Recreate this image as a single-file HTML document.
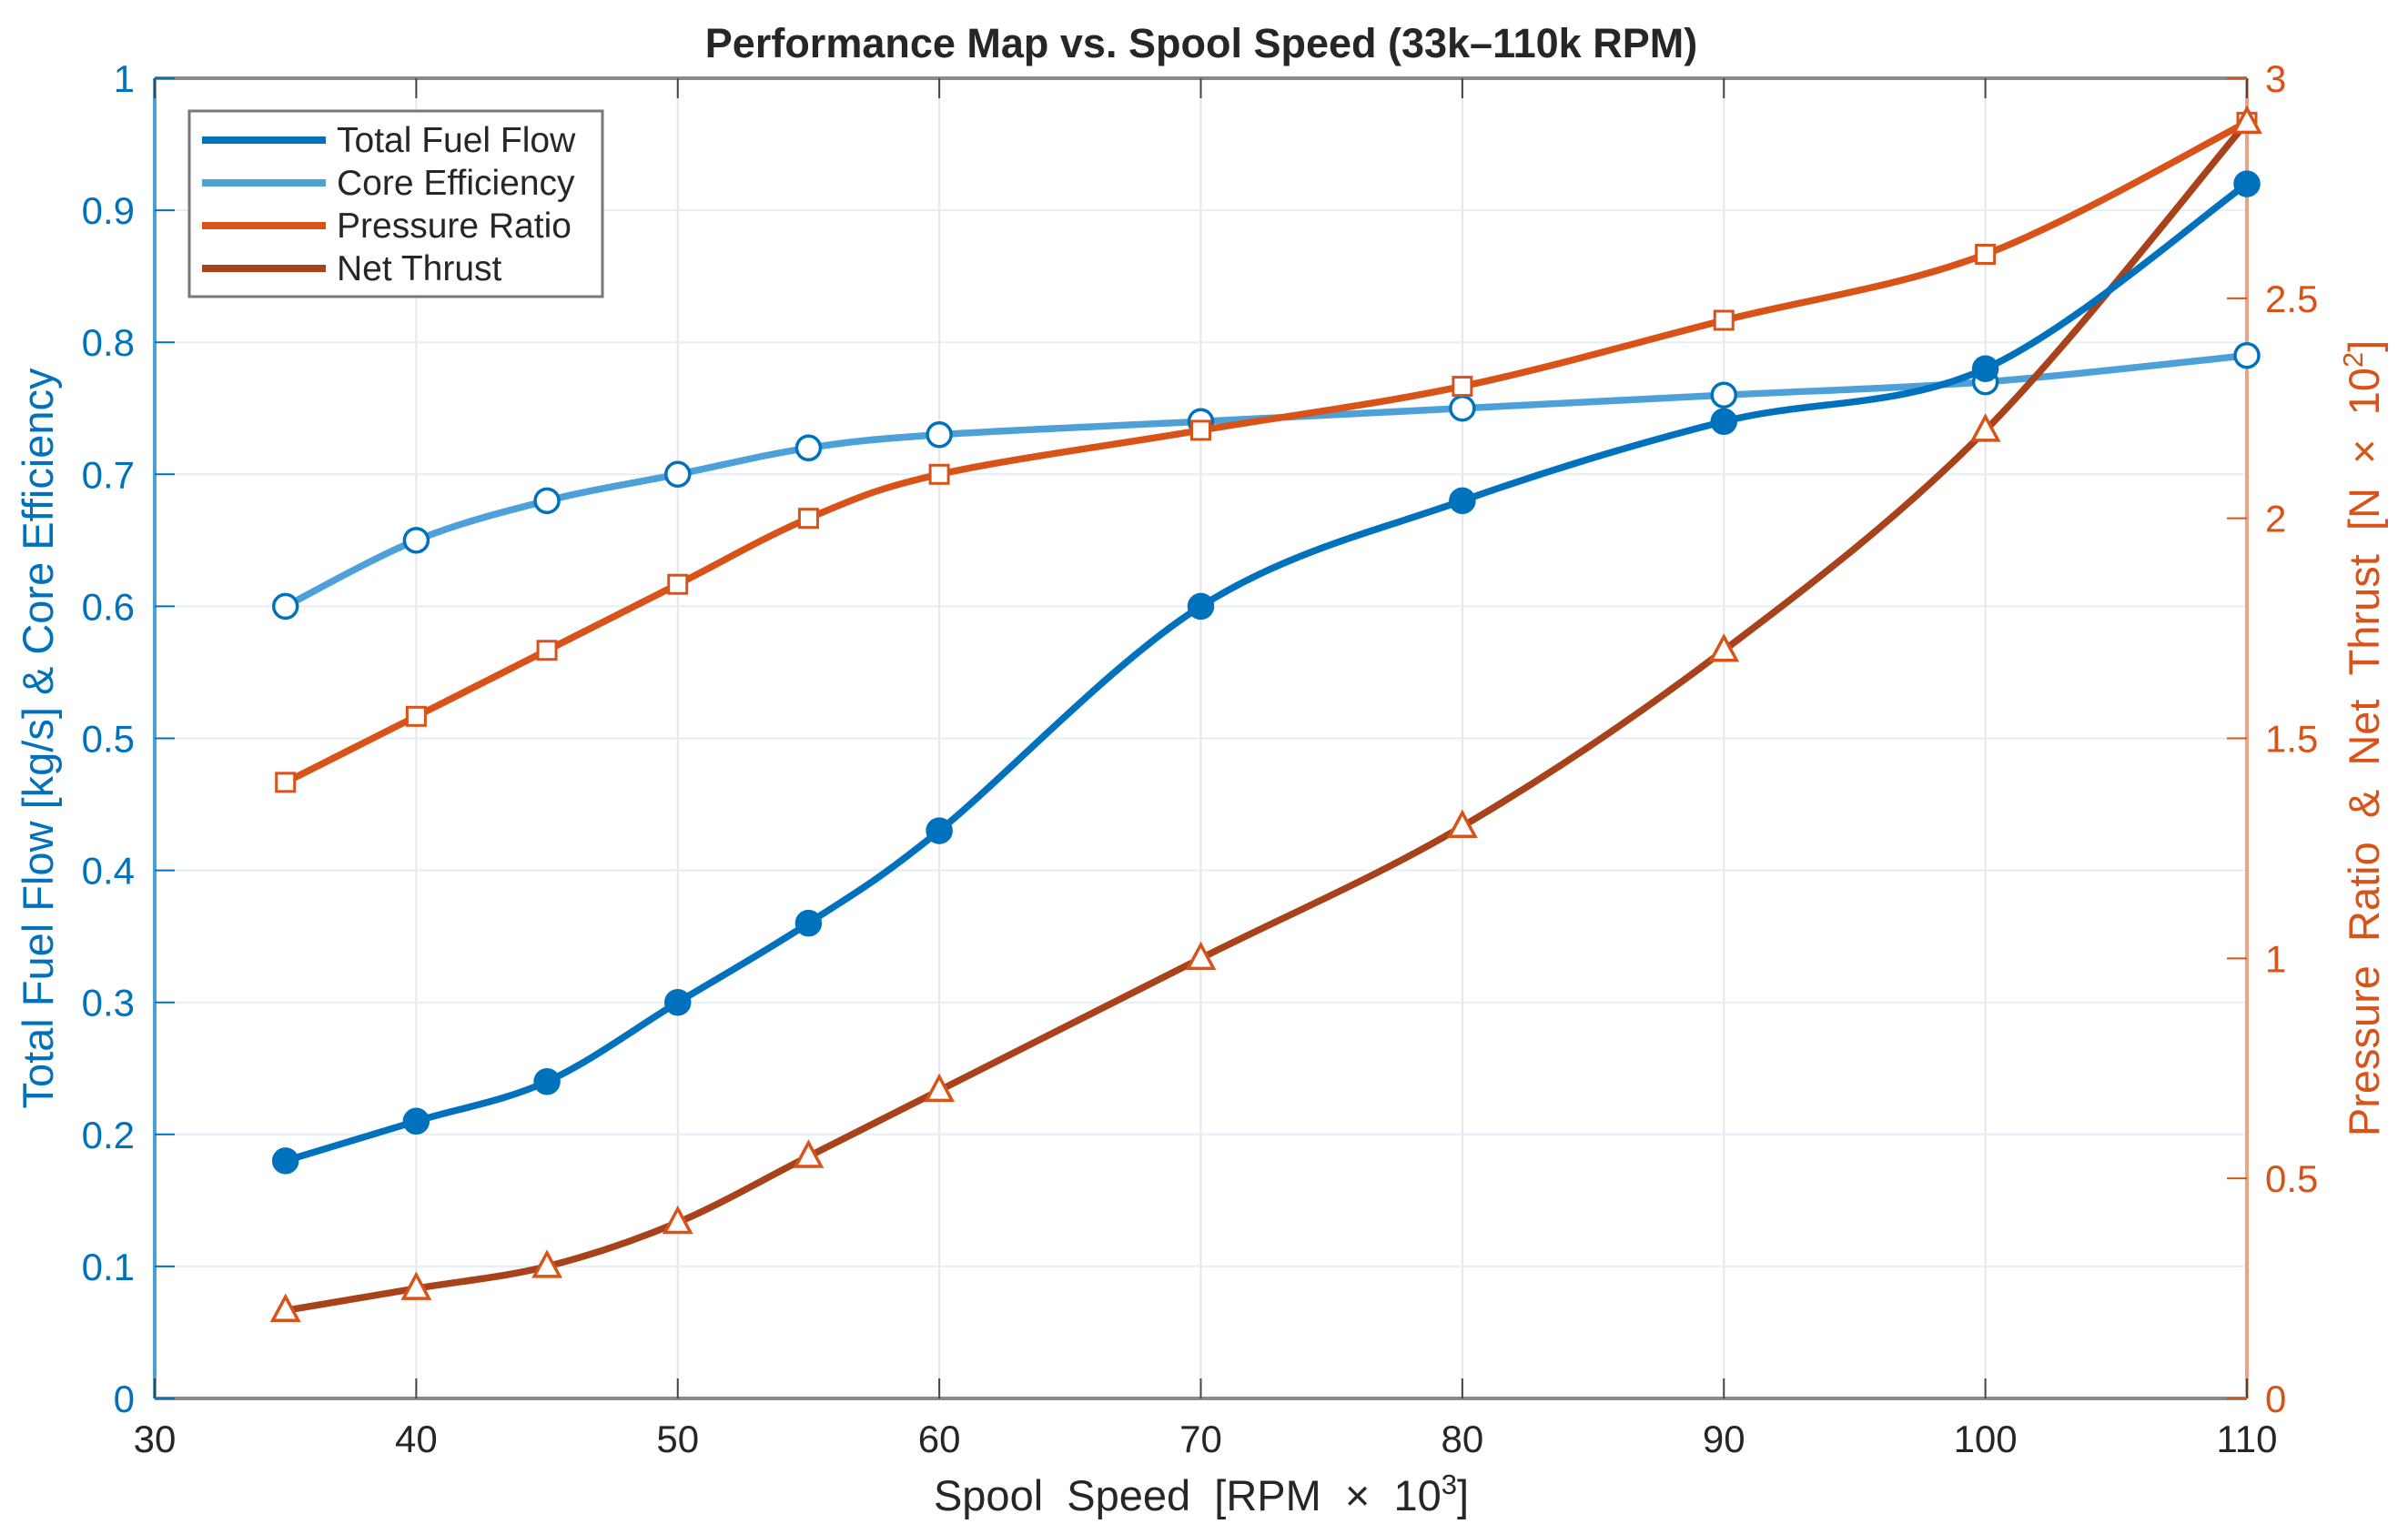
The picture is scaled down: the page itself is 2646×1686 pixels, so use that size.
<!DOCTYPE html>
<html><head><meta charset="utf-8"><style>
html,body{margin:0;padding:0;background:#fff;}
svg{display:block;font-family:"Liberation Sans",Arial,sans-serif;}
</style></head><body>
<svg id="chart" width="2646" height="1686" viewBox="0 0 2646 1686"></svg>
<script>
const categories=[35,40,45,50,55,60,70,80,90,100,110];
const fuelFlow=[0.18,0.21,0.24,0.30,0.36,0.43,0.60,0.68,0.74,0.78,0.92];
const coreEff=[0.60,0.65,0.68,0.70,0.72,0.73,0.74,0.75,0.76,0.77,0.79];
const pressureRatio=[1.40,1.55,1.70,1.85,2.00,2.10,2.20,2.30,2.45,2.60,2.90];
const netThrust=[0.20,0.25,0.30,0.40,0.55,0.70,1.00,1.30,1.70,2.20,2.90];
const xTicks=[30,40,50,60,70,80,90,100,110];
const yLeftTicks=[0,0.1,0.2,0.3,0.4,0.5,0.6,0.7,0.8,0.9,1];
const yRightTicks=[0,0.5,1,1.5,2,2.5,3];

const L=170,R=2469,T=86,B=1537;
const NS="http://www.w3.org/2000/svg";
const svg=document.getElementById('chart');
const sx=v=>L+(v-30)/(110-30)*(R-L);
const syl=v=>B-v*(B-T);
const syr=v=>B-v/3*(B-T);
function mk(tag,attrs,parent){const e=document.createElementNS(NS,tag);for(const k in attrs)e.setAttribute(k,attrs[k]);(parent||svg).appendChild(e);return e;}
function fmt(v){return String(+v.toFixed(2));}

xTicks.forEach(t=>{const g=mk('line',{x1:sx(t),x2:sx(t),y1:T,y2:B,stroke:'#e3e6ea','stroke-width':2});

});
yLeftTicks.forEach(t=>{const g=mk('line',{x1:L,x2:R,y1:syl(t),y2:syl(t),stroke:'#e3eef8','stroke-width':2});

});

const ax=mk('path',{d:`M${L} ${T}H${R}M${L} ${B}H${R}`,stroke:'#8a8a8a','stroke-width':4,fill:'none'});


const la=mk('line',{x1:L,x2:L,y1:T,y2:B,stroke:'#4d9fd6','stroke-width':4});


const ra=mk('line',{x1:R,x2:R,y1:T,y2:B,stroke:'#eca383','stroke-width':4});



xTicks.forEach(t=>{
 mk('line',{x1:sx(t),x2:sx(t),y1:B,y2:B-22,stroke:'#444','stroke-width':2});
 mk('line',{x1:sx(t),x2:sx(t),y1:T,y2:T+22,stroke:'#444','stroke-width':2});
 const tx=mk('text',{x:sx(t),y:B+59,'text-anchor':'middle','font-size':42,fill:'#262626'});tx.textContent=t;
 
 
});
yLeftTicks.forEach(t=>{
 mk('line',{x1:L,x2:L+22,y1:syl(t),y2:syl(t),stroke:'#0072BD','stroke-width':2});
 const tx=mk('text',{x:L-22,y:syl(t)+15,'text-anchor':'end','font-size':42,fill:'#0072BD'});tx.textContent=fmt(t);
 
 
});
yRightTicks.forEach(t=>{
 mk('line',{x1:R,x2:R-22,y1:syr(t),y2:syr(t),stroke:'#D95319','stroke-width':2});
 const tx=mk('text',{x:R+20,y:syr(t)+15,'text-anchor':'start','font-size':42,fill:'#D95319'});tx.textContent=fmt(t);
 
 
});

function curve(pts){
 let d=`M${pts[0][0]} ${pts[0][1]}`;
 for(let i=0;i<pts.length-1;i++){
  const p0=pts[Math.max(0,i-1)],p1=pts[i],p2=pts[i+1],p3=pts[Math.min(pts.length-1,i+2)];
  const c1x=p1[0]+(p2[0]-p0[0])/6,c1y=p1[1]+(p2[1]-p0[1])/6;
  const c2x=p2[0]-(p3[0]-p1[0])/6,c2y=p2[1]-(p3[1]-p1[1])/6;
  d+=`C${c1x} ${c1y} ${c2x} ${c2y} ${p2[0]} ${p2[1]}`;
 }
 return d;
}
function series(vals,sy,color,marker,fill,mcolor,name){
 const pts=categories.map((c,i)=>[sx(c),sy(vals[i])]);
 const p=mk('path',{d:curve(pts),stroke:color,'stroke-width':7.5,fill:'none','stroke-linejoin':'round'});
 
 
 pts.forEach(([x,y])=>{
  let m;
  if(marker==='circle')m=mk('circle',{cx:x,cy:y,r:13,fill:fill,stroke:mcolor,'stroke-width':3.5});
  else if(marker==='square')m=mk('rect',{x:x-10,y:y-10,width:20,height:20,fill:'#fff',stroke:mcolor,'stroke-width':3});
  else m=mk('path',{d:`M${x} ${y-15}L${x+14} ${y+11}L${x-14} ${y+11}Z`,fill:'#fff',stroke:mcolor,'stroke-width':3.5});
  
  
 });
}
series(coreEff,syl,'#4DA0D8','circle','#fff','#0072BD','core-efficiency');
series(pressureRatio,syr,'#D95319','square','#fff','#D95319','pressure-ratio');
series(netThrust,syr,'#A8421B','triangle','#fff','#D95319','net-thrust');
series(fuelFlow,syl,'#0072BD','circle','#0072BD','#0072BD','total-fuel-flow');

const lg=mk('g',{});


mk('rect',{x:208,y:122,width:454,height:204,fill:'#fff',stroke:'#777','stroke-width':3},lg);
[['Total Fuel Flow','#0072BD'],['Core Efficiency','#4DA0D8'],['Pressure Ratio','#D95319'],['Net Thrust','#A8421B']].forEach((e,i)=>{
 const y=154+i*47;
 const g=mk('g',{},lg);
 
 
 mk('line',{x1:222,x2:358,y1:y,y2:y,stroke:e[1],'stroke-width':8},g);
 const t=mk('text',{x:370,y:y+13,'font-size':39,fill:'#262626'},g);t.textContent=e[0];
});

const ti=mk('text',{x:1320,y:63,'text-anchor':'middle','font-size':45,'font-weight':'bold',fill:'#262626'});
ti.textContent='Performance Map vs. Spool Speed (33k–110k RPM)';


const xl=mk('text',{x:1320,y:1660,'text-anchor':'middle','font-size':47,fill:'#262626'});
xl.innerHTML='Spool\u00a0\u00a0Speed\u00a0\u00a0[RPM\u00a0\u00a0×\u00a0\u00a010<tspan dy="-18" font-size="31">3</tspan><tspan dy="18">]</tspan>';


const yl=mk('text',{x:0,y:0,'text-anchor':'middle','font-size':47,fill:'#0072BD',transform:`translate(58 ${(T+B)/2}) rotate(-90)`});
yl.textContent='Total Fuel Flow [kg/s] & Core Efficiency';


const yr=mk('text',{x:0,y:0,'text-anchor':'middle','font-size':47,fill:'#D95319',transform:`translate(2614 ${(T+B)/2}) rotate(-90)`});
yr.innerHTML='Pressure\u00a0\u00a0Ratio\u00a0\u00a0&amp;\u00a0\u00a0Net\u00a0\u00a0Thrust\u00a0\u00a0[N\u00a0\u00a0×\u00a0\u00a010<tspan dy="-18" font-size="31">2</tspan><tspan dy="18">]</tspan>';


</script>
</body></html>
